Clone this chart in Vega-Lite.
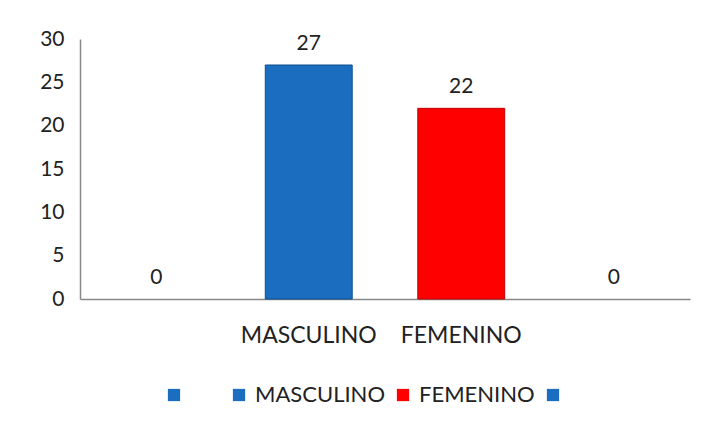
{
  "$schema": "https://vega.github.io/schema/vega-lite/v6.json",
  "width": 610,
  "height": 260,
  "padding": {"left": 35, "top": 28, "right": 10, "bottom": 5},
  "autosize": {"type": "pad"},
  "background": "white",
  "config": {
    "font": "Lato",
    "view": {"stroke": null},
    "axis": {"labelColor": "#222222", "labelFont": "Lato", "labelFontSize": 21, "domainColor": "#888888", "domainWidth": 1.5, "ticks": false, "grid": false, "title": null},
    "legend": {"labelFont": "Lato", "labelFontSize": 22, "labelColor": "#222222"}
  },
  "data": {
    "values": [
      {"cat": "A", "n": 0},
      {"cat": "MASCULINO", "n": 27},
      {"cat": "FEMENINO", "n": 22},
      {"cat": "D", "n": 0}
    ]
  },
  "encoding": {
    "x": {
      "field": "cat",
      "type": "nominal",
      "sort": null,
      "scale": {"paddingInner": 0.43, "paddingOuter": 0.215},
      "axis": {"labelAngle": 0, "labelPadding": 25, "labelFontSize": 23, "labelExpr": "datum.label == 'A' || datum.label == 'D' ? '' : datum.label"}
    },
    "y": {
      "field": "n",
      "type": "quantitative",
      "scale": {"domain": [0, 30]},
      "axis": {"values": [0, 5, 10, 15, 20, 25, 30], "labelPadding": 16, "minExtent": 45, "maxExtent": 45}
    }
  },
  "layer": [
    {
      "mark": {"type": "bar"},
      "encoding": {
        "color": {
          "field": "cat",
          "type": "nominal",
          "sort": null,
          "scale": {"domain": ["A", "MASCULINO", "FEMENINO", "D"], "range": ["#1A6DBF", "#1A6DBF", "#FF0000", "#1A6DBF"]},
          "legend": {
            "orient": "none",
            "legendX": 83,
            "legendY": 345,
            "direction": "horizontal",
            "title": null,
            "symbolType": "square",
            "symbolSize": 150,
            "symbolStrokeWidth": 0,
            "labelOffset": 5,
            "columnPadding": 7,
            "labelExpr": "datum.label == 'A' || datum.label == 'D' ? '___' : datum.label",
            "encode": {
              "labels": {
                "update": {
                  "opacity": {"signal": "datum.value == 'A' || datum.value == 'D' ? 0 : 1"}
                }
              }
            }
          }
        },
        "stroke": {
          "field": "cat",
          "type": "nominal",
          "sort": null,
          "scale": {"domain": ["A", "MASCULINO", "FEMENINO", "D"], "range": ["#0F4F8F", "#0F4F8F", "#C00000", "#0F4F8F"]},
          "legend": null
        },
        "strokeWidth": {"condition": {"test": "datum.n > 0", "value": 1}, "value": 0}
      }
    },
    {
      "mark": {"type": "text", "baseline": "bottom", "dy": -11, "fontSize": 21, "color": "#222222", "font": "Lato"},
      "encoding": {"text": {"field": "n", "type": "quantitative"}}
    }
  ]
}
